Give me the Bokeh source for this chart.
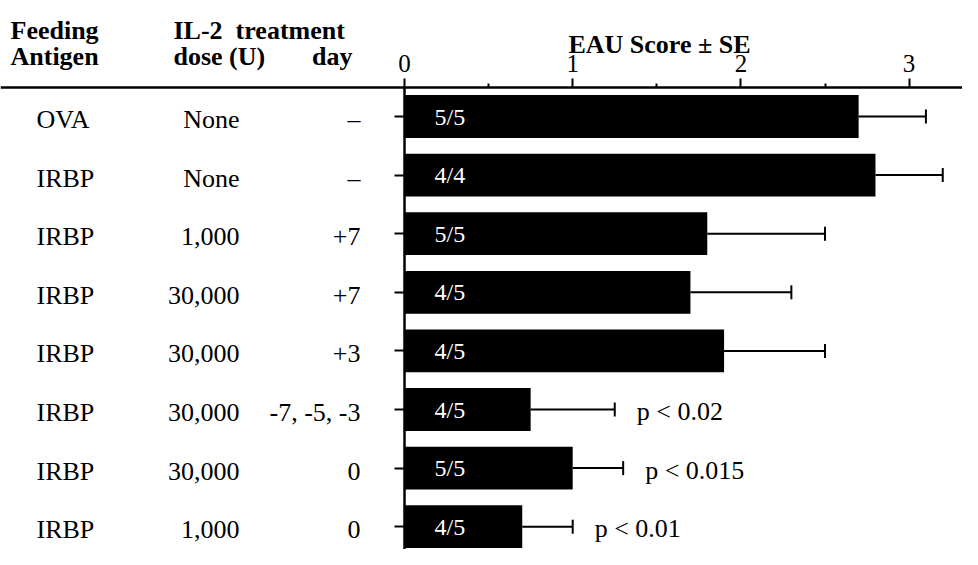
from bokeh.plotting import figure
from bokeh.models import (ColumnDataSource, Range1d, LinearAxis, FixedTicker,
                          Whisker, TeeHead, Label)
from bokeh.core.properties import value
from bokeh.embed import file_html
from bokeh.resources import INLINE

# ---------------- data ----------------
rows = [0, 1, 2, 3, 4, 5, 6, 7]
antigen = ["OVA", "IRBP", "IRBP", "IRBP", "IRBP", "IRBP", "IRBP", "IRBP"]
dose = ["None", "None", "1,000", "30,000", "30,000", "30,000", "30,000", "1,000"]
day = ["\u2013", "\u2013", "+7", "+7", "+3", "-7, -5, -3", "0", "0"]
incidence = ["5/5", "4/4", "5/5", "4/5", "4/5", "4/5", "5/5", "4/5"]
eau_mean = [2.7, 2.8, 1.8, 1.7, 1.9, 0.75, 1.0, 0.7]
eau_se = [0.4, 0.4, 0.7, 0.6, 0.6, 0.5, 0.3, 0.3]
p_text = ["", "", "", "", "", "p < 0.02", "p < 0.015", "p < 0.01"]
x_ticks = [0, 1, 2, 3]
x_minor = [0.5, 1.5, 2.5]

# ---------------- layout helpers (pixel -> data) ----------------
W, H = 962, 549
X0_PX, X_SCALE = 404.0, 168.2     # pixel of score 0, pixels per unit
Y0_PX, Y_SCALE = 116.0, 58.6      # pixel of row 0, pixels per row


def px_x(px):
    return (px - X0_PX) / X_SCALE


def px_y(py):
    return (py - Y0_PX) / Y_SCALE


SERIF = "Liberation Serif"

src = ColumnDataSource(dict(
    row=rows, antigen=antigen, dose=dose, day=day, inc=incidence,
    mean=eau_mean, se=eau_se,
    hi=[m + s for m, s in zip(eau_mean, eau_se)],
    ptext=p_text,
))

p = figure(width=W, height=H, output_backend="svg", toolbar_location=None,
           x_range=Range1d(-X0_PX / X_SCALE, (W - X0_PX) / X_SCALE),
           y_range=Range1d((H - Y0_PX) / Y_SCALE, -Y0_PX / Y_SCALE),
           x_axis_location=None, y_axis_location=None, min_border=0,
           outline_line_color=None, background_fill_color="white",
           border_fill_color="white")
p.xgrid.visible = False
p.ygrid.visible = False

axis_y = px_y(87)

# top score axis
xa = LinearAxis(ticker=FixedTicker(ticks=x_ticks, minor_ticks=x_minor),
                fixed_location=axis_y)
xa.axis_line_width = 2.5
xa.major_tick_line_width = 2
xa.minor_tick_line_width = 2
xa.major_tick_out = 9
xa.major_tick_in = 0
xa.minor_tick_out = 4
xa.minor_tick_in = 0
xa.major_label_standoff = 7
xa.major_label_text_font = SERIF
xa.major_label_text_font_size = "25px"
xa.major_label_text_color = "black"
p.add_layout(xa, "above")

# vertical axis at score 0
ya = LinearAxis(ticker=FixedTicker(ticks=rows, minor_ticks=[]),
                fixed_location=0, bounds=(axis_y, px_y(600)))
ya.axis_line_width = 2.5
ya.major_tick_line_width = 2
ya.major_tick_out = 10
ya.major_tick_in = 0
ya.minor_tick_out = 0
ya.major_label_text_font_size = "0px"
ya.major_label_text_alpha = 0
p.add_layout(ya, "left")

# bars
p.hbar(y="row", left=0, right="mean", height=0.73, source=src,
       fill_color="black", line_color=None)

# error bars
p.add_layout(Whisker(source=src, base="row", lower="mean", upper="hi",
                     dimension="width", line_color="black", line_width=2,
                     upper_head=TeeHead(size=14, line_width=2, line_color="black"),
                     lower_head=None))

# incidence inside bars
p.text(x=0, y="row", text="inc", source=src, x_offset=30,
       text_font=value(SERIF), text_font_size="24px", text_color="white",
       text_align="left", text_baseline="middle")

# p-values
p.text(x="hi", y="row", text="ptext", source=src, x_offset=22, y_offset=2,
       text_font=value(SERIF), text_font_size="26px", text_color="black",
       text_align="left", text_baseline="middle")

# row labels
p.text(x=px_x(36), y="row", text="antigen", source=src, y_offset=3,
       text_font=value(SERIF), text_font_size="26px", text_color="black",
       text_align="left", text_baseline="middle")
p.text(x=px_x(239), y="row", text="dose", source=src, y_offset=3,
       text_font=value(SERIF), text_font_size="26px", text_color="black",
       text_align="right", text_baseline="middle")
p.text(x=px_x(360), y="row", text="day", source=src, y_offset=3,
       text_font=value(SERIF), text_font_size="26px", text_color="black",
       text_align="right", text_baseline="middle")

# headers
headers = [
    ("Feeding", 10, 30, "left"),
    ("Antigen", 10, 56, "left"),
    ("IL-2\u00a0 treatment", 173, 30, "left"),
    ("dose (U)", 173, 56, "left"),
    ("day", 352, 56, "right"),
    ("EAU Score \u00b1 SE", 659, 44, "center"),
]
for txt, hx, hy, al in headers:
    p.add_layout(Label(x=px_x(hx), y=px_y(hy), text=txt, text_font=SERIF,
                       text_font_size="26px", text_font_style="bold",
                       text_color="black", text_align=al,
                       text_baseline="alphabetic"))

open("out.html", "w").write(file_html(p, INLINE))
